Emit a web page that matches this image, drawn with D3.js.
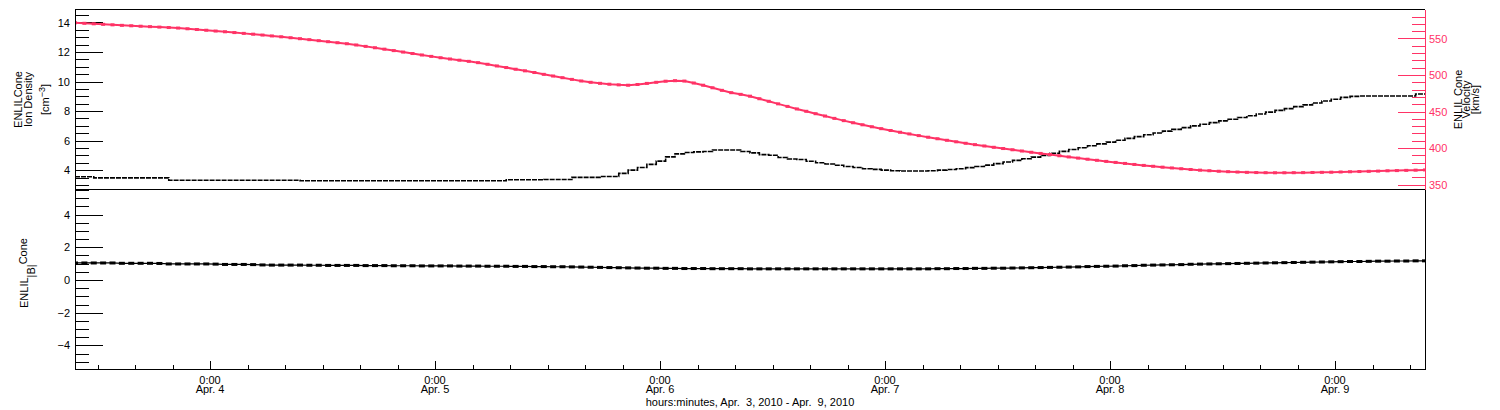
<!DOCTYPE html>
<html><head><meta charset="utf-8">
<script src="https://cdn.jsdelivr.net/npm/d3@7"></script>
<style>
body{margin:0;background:#fff}
svg text{font-family:"Liberation Sans",Arial,sans-serif;font-size:11px}
</style></head><body><svg id="c" width="1500" height="410"></svg>
<script>
const startTime = "2010-04-03T09:36:00Z";
const endTime = "2010-04-09T09:36:00Z";
const sampleHours = 1;
const velocity = [
571.5,570.8,570.1,569.4,568.7,568.0,567.4,566.8,566.2,565.6,
565.0,564.3,563.3,562.3,561.3,560.2,559.2,558.1,557.0,555.9,
554.7,553.5,552.3,551.0,549.7,548.4,547.0,545.6,544.2,542.8,
541.1,539.2,537.3,535.4,533.4,531.4,529.4,527.4,525.5,523.6,
521.9,520.3,518.7,516.9,514.7,512.4,510.2,507.9,505.7,503.4,
500.9,498.6,496.3,494.0,491.8,490.0,488.6,487.4,486.5,486.0,
487.0,488.5,490.0,491.5,492.2,491.7,489.0,486.0,482.5,479.0,
475.8,473.5,471.0,467.5,464.0,460.5,457.0,453.5,450.3,447.0,
443.8,440.6,437.5,434.6,431.8,429.1,426.5,424.0,421.6,419.3,
417.0,414.8,412.7,410.6,408.5,406.5,404.6,402.8,401.0,399.3,
397.6,395.9,394.2,392.6,391.0,389.4,387.8,386.2,384.7,383.2,
381.7,380.3,378.9,377.5,376.2,375.0,373.8,372.7,371.6,370.6,
369.7,368.9,368.2,367.6,367.1,366.7,366.4,366.2,366.1,366.1,
366.2,366.3,366.5,366.7,366.9,367.2,367.5,367.8,368.1,368.4,
368.8,369.1,369.4,369.7,370.0];
const density = [
3.55,3.55,3.48,3.48,3.48,3.48,3.48,3.48,3.48,3.48,
3.32,3.32,3.32,3.32,3.32,3.32,3.32,3.32,3.32,3.32,
3.32,3.32,3.32,3.32,3.28,3.28,3.28,3.28,3.28,3.28,
3.28,3.28,3.28,3.28,3.28,3.28,3.28,3.28,3.28,3.28,
3.28,3.28,3.28,3.28,3.28,3.28,3.35,3.35,3.35,3.35,
3.37,3.37,3.37,3.51,3.51,3.51,3.57,3.57,3.78,4.00,
4.18,4.39,4.61,4.90,5.10,5.20,5.24,5.26,5.37,5.37,
5.37,5.26,5.17,5.05,5.01,4.86,4.76,4.72,4.60,4.50,
4.42,4.33,4.25,4.18,4.10,4.05,4.00,3.96,3.94,3.94,
3.94,3.96,4.00,4.04,4.10,4.17,4.25,4.34,4.44,4.55,
4.66,4.77,4.88,5.00,5.15,5.27,5.40,5.52,5.65,5.78,
5.90,6.03,6.15,6.27,6.40,6.52,6.64,6.76,6.88,7.00,
7.11,7.22,7.34,7.45,7.57,7.68,7.80,7.93,8.05,8.17,
8.30,8.42,8.55,8.68,8.80,8.93,9.00,9.02,9.02,9.02,
9.02,9.02,9.02,9.16,9.16];
const bMag = [
1.04,1.04,1.04,1.04,1.04,1.02,1.02,1.02,1.02,1.01,
0.98,0.98,0.98,0.98,0.98,0.97,0.95,0.95,0.95,0.94,
0.92,0.91,0.91,0.91,0.91,0.90,0.90,0.89,0.89,0.89,
0.89,0.88,0.88,0.88,0.87,0.87,0.87,0.86,0.86,0.86,
0.86,0.85,0.85,0.85,0.84,0.84,0.84,0.83,0.83,0.82,
0.82,0.81,0.81,0.80,0.79,0.78,0.77,0.76,0.75,0.74,
0.73,0.72,0.72,0.71,0.71,0.70,0.70,0.70,0.69,0.69,
0.69,0.69,0.68,0.68,0.68,0.68,0.68,0.68,0.68,0.68,
0.68,0.68,0.68,0.68,0.68,0.68,0.68,0.68,0.68,0.68,
0.68,0.68,0.69,0.69,0.70,0.70,0.71,0.71,0.72,0.72,
0.73,0.74,0.75,0.76,0.77,0.78,0.79,0.80,0.82,0.83,
0.84,0.85,0.87,0.88,0.90,0.91,0.92,0.93,0.94,0.96,
0.97,0.98,0.99,1.00,1.01,1.02,1.03,1.04,1.05,1.06,
1.07,1.08,1.09,1.10,1.11,1.12,1.13,1.13,1.14,1.15,
1.15,1.16,1.16,1.17,1.17];
const densityDomain = [2.69, 14.88];
const velocityDomain = [343.2, 589.7];
const bDomain = [-5.47, 5.53];
const densityTicks = [4,6,8,10,12,14];
const velocityTicks = [350,400,450,500,550];
const bTicks = [-4,-2,0,2,4];
const dayTickLabels = ["Apr. 4","Apr. 5","Apr. 6","Apr. 7","Apr. 8","Apr. 9"];
const timeTickLabel = "0:00";
const xTitle = "hours:minutes, Apr.  3, 2010 - Apr.  9, 2010";

const PINK = "#ff3366";
const L = 75, R = 1425, T1 = 9.5, B1 = 189.5, T2 = 189.5, B2 = 369.5;
const svg = d3.select("#c");

const t0 = new Date(startTime), t1 = new Date(endTime);
const times = velocity.map((_, i) => new Date(+t0 + i * sampleHours * 3600e3));
const x = d3.scaleUtc().domain([t0, t1]).range([L, R]);
const yD = d3.scaleLinear().domain(densityDomain).range([B1, T1]);
const yV = d3.scaleLinear().domain(velocityDomain).range([B1, T1]);
const yB = d3.scaleLinear().domain(bDomain).range([B2, T2]);

function minors(dom, step, majors) {
  const out = [];
  for (let v = Math.ceil(dom[0] / step) * step; v <= dom[1] + 1e-9; v += step) {
    const r = Math.round(v * 1000) / 1000;
    if (!majors.some(m => Math.abs(m - r) < 1e-6)) out.push(r);
  }
  return out;
}
function styleAxis(g, color) {
  g.select(".domain").remove();
  g.selectAll("line").attr("stroke", color).attr("shape-rendering", "crispEdges");
  g.selectAll("text").attr("fill", color).style("font-size", "11px").attr("font-family", null);
}

// left density axis
const gD = svg.append("g").attr("transform", `translate(${L},0)`);
gD.append("g").call(d3.axisLeft(yD).tickValues(minors(densityDomain, 0.5, densityTicks)).tickSize(-14).tickFormat(""))
  .call(g => styleAxis(g, "#000"));
gD.append("g").call(d3.axisLeft(yD).tickValues(densityTicks).tickSize(-28).tickPadding(5).tickFormat(d3.format("d")))
  .call(g => styleAxis(g, "#000"));

// right velocity axis
const gV = svg.append("g").attr("transform", `translate(${R},0)`);
gV.append("g").call(d3.axisRight(yV).tickValues(minors(velocityDomain, 10, velocityTicks)).tickSize(-13).tickFormat(""))
  .call(g => styleAxis(g, PINK));
gV.append("g").call(d3.axisRight(yV).tickValues(velocityTicks).tickSize(-27).tickPadding(4).tickFormat(d3.format("d")))
  .call(g => styleAxis(g, PINK));

// bottom panel B axis
const gB = svg.append("g").attr("transform", `translate(${L},0)`);
gB.append("g").call(d3.axisLeft(yB).tickValues(minors(bDomain, 0.5, bTicks)).tickSize(-14).tickFormat(""))
  .call(g => styleAxis(g, "#000"));
gB.append("g").call(d3.axisLeft(yB).tickValues(bTicks).tickSize(-28).tickPadding(5)
  .tickFormat(d => d < 0 ? "\u2212" + Math.abs(d) : String(d)))
  .call(g => styleAxis(g, "#000"));

// x axis
const majorTimes = d3.utcDay.range(t0, t1);
const minorTimes = d3.utcHour.every(4).range(t0, t1).filter(d => d.getUTCHours() !== 0);
const gX = svg.append("g").attr("transform", `translate(0,${B2})`);
gX.append("g").call(d3.axisBottom(x).tickValues(minorTimes).tickSize(-5).tickFormat(""))
  .call(g => styleAxis(g, "#000"));
gX.append("g").call(d3.axisBottom(x).tickValues(majorTimes).tickSize(-9).tickFormat(""))
  .call(g => styleAxis(g, "#000"));
majorTimes.forEach((d, i) => {
  svg.append("text").attr("x", x(d)).attr("y", 384).attr("text-anchor", "middle").text(timeTickLabel);
  svg.append("text").attr("x", x(d)).attr("y", 393).attr("text-anchor", "middle").text(dayTickLabels[i]);
});
svg.append("text").attr("x", (L + R) / 2).attr("y", 405.5).attr("text-anchor", "middle")
  .text(xTitle.replace(/  /g, " \u00a0"));

// clip paths
svg.append("clipPath").attr("id", "cp1").append("rect").attr("x", L).attr("y", T1).attr("width", R - L).attr("height", B1 - T1);
svg.append("clipPath").attr("id", "cp2").append("rect").attr("x", L).attr("y", T2).attr("width", R - L).attr("height", B2 - T2);

// density line (black, stepped)
const p1 = svg.append("g").attr("clip-path", "url(#cp1)");
p1.append("path").datum(density)
  .attr("d", d3.line().x((d, i) => x(times[i])).y(d => yD(d)).curve(d3.curveStepAfter))
  .attr("fill", "none").attr("stroke", "#000").attr("stroke-width", 1.6).attr("stroke-dasharray", "5,1");

// velocity line (pink with markers)
p1.append("path").datum(velocity)
  .attr("d", d3.line().x((d, i) => x(times[i])).y(d => yV(d)))
  .attr("fill", "none").attr("stroke", PINK).attr("stroke-width", 2);
p1.selectAll("rect.v").data(velocity).join("rect").attr("class", "v")
  .attr("x", (d, i) => x(times[i]) - 2).attr("y", d => yV(d) - 1.5)
  .attr("width", 4).attr("height", 3).attr("fill", PINK);

// |B| line
const p2 = svg.append("g").attr("clip-path", "url(#cp2)");
p2.append("path").datum(bMag)
  .attr("d", d3.line().x((d, i) => x(times[i])).y(d => yB(d)))
  .attr("fill", "none").attr("stroke", "#000").attr("stroke-width", 1.2);
p2.selectAll("rect").data(bMag).join("rect")
  .attr("x", (d, i) => x(times[i]) - 3).attr("y", d => yB(d) - 1.5)
  .attr("width", 6).attr("height", 3).attr("fill", "#000");

// frames
const fr = svg.append("g").attr("fill", "none").attr("shape-rendering", "crispEdges");
fr.append("line").attr("x1", L).attr("x2", R).attr("y1", T1).attr("y2", T1).attr("stroke", "#000");
fr.append("line").attr("x1", L).attr("x2", R).attr("y1", B1).attr("y2", B1).attr("stroke", "#000");
fr.append("line").attr("x1", L).attr("x2", R).attr("y1", B2).attr("y2", B2).attr("stroke", "#000");
fr.append("line").attr("x1", L).attr("x2", L).attr("y1", T1).attr("y2", B2).attr("stroke", "#000");
fr.append("line").attr("x1", R).attr("x2", R).attr("y1", T1).attr("y2", B1).attr("stroke", PINK);
fr.append("line").attr("x1", R).attr("x2", R).attr("y1", T2).attr("y2", B2).attr("stroke", "#000");

// axis titles
function vtitle(cx, cy, lines) {
  const g = svg.append("g").attr("transform", `translate(${cx},${cy}) rotate(-90)`);
  lines.forEach(l => {
    const t = g.append("text").attr("x", 0).attr("y", l.dy).attr("text-anchor", "middle");
    l.parts.forEach(p => t.append("tspan").attr("dy", p.shift || 0).style("font-size", p.size || "11px").text(p.text));
  });
  return g;
}
vtitle(0, 99.5, [
  {dy: 22, parts: [{text: "ENLILCone"}]},
  {dy: 32, parts: [{text: "Ion Density"}]},
  {dy: 49, parts: [{text: "[cm"}, {text: "\u22123", shift: -4, size: "9px"}, {text: "]", shift: 4}]}
]);
vtitle(0, 99.5, [
  {dy: 1462, parts: [{text: "ENLIL Cone"}]},
  {dy: 1470, parts: [{text: "Velocity"}]},
  {dy: 1479, parts: [{text: "[km/s]"}]}
]);
const gt = svg.append("g").attr("transform", `translate(28,308) rotate(-90)`);
const tt = gt.append("text").attr("x", 0).attr("y", 0).attr("text-anchor", "start");
tt.append("tspan").text("ENLIL");
tt.append("tspan").attr("dy", 7).text("|B|");
tt.append("tspan").attr("dy", -8).text("Cone");
</script></body></html>
